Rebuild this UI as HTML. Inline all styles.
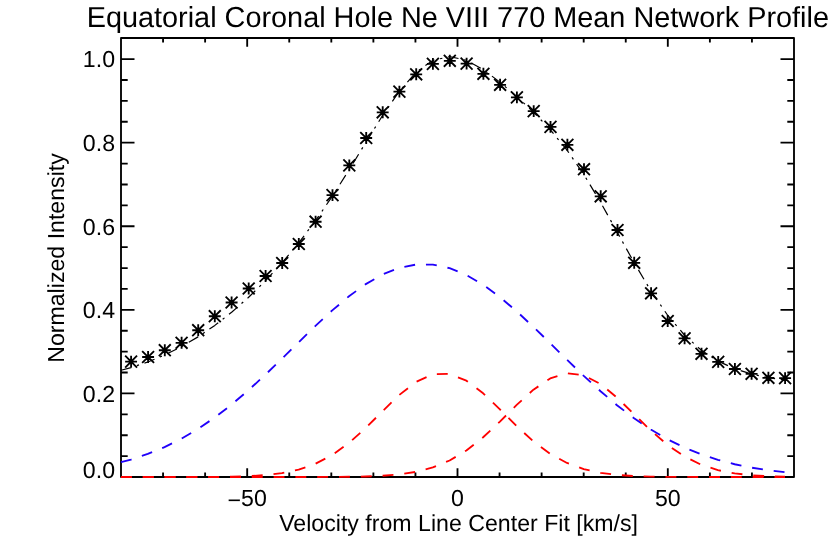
<!DOCTYPE html>
<html><head><meta charset="utf-8"><title>Equatorial Coronal Hole Ne VIII 770 Mean Network Profile</title>
<style>html,body{margin:0;padding:0;background:#fff;}svg{display:block;will-change:transform;}text{font-family:"Liberation Sans",sans-serif;fill:#000;text-rendering:geometricPrecision;}</style></head><body>
<svg width="830" height="554" viewBox="0 0 830 554">
<rect x="0" y="0" width="830" height="554" fill="#fff"/>
<path d="M121.00,38.00 H794.00 V477.00 H121.00 Z M163.06,477.00 v-4.40 M163.06,38.00 v4.40 M205.12,477.00 v-4.40 M205.12,38.00 v4.40 M247.19,477.00 v-8.80 M247.19,38.00 v8.80 M289.25,477.00 v-4.40 M289.25,38.00 v4.40 M331.31,477.00 v-4.40 M331.31,38.00 v4.40 M373.38,477.00 v-4.40 M373.38,38.00 v4.40 M415.44,477.00 v-4.40 M415.44,38.00 v4.40 M457.50,477.00 v-8.80 M457.50,38.00 v8.80 M499.56,477.00 v-4.40 M499.56,38.00 v4.40 M541.62,477.00 v-4.40 M541.62,38.00 v4.40 M583.69,477.00 v-4.40 M583.69,38.00 v4.40 M625.75,477.00 v-4.40 M625.75,38.00 v4.40 M667.81,477.00 v-8.80 M667.81,38.00 v8.80 M709.88,477.00 v-4.40 M709.88,38.00 v4.40 M751.94,477.00 v-4.40 M751.94,38.00 v4.40 M121.00,456.11 h6.70 M794.00,456.11 h-6.70 M121.00,435.21 h6.70 M794.00,435.21 h-6.70 M121.00,414.31 h6.70 M794.00,414.31 h-6.70 M121.00,393.42 h13.50 M794.00,393.42 h-13.50 M121.00,372.52 h6.70 M794.00,372.52 h-6.70 M121.00,351.63 h6.70 M794.00,351.63 h-6.70 M121.00,330.74 h6.70 M794.00,330.74 h-6.70 M121.00,309.84 h13.50 M794.00,309.84 h-13.50 M121.00,288.94 h6.70 M794.00,288.94 h-6.70 M121.00,268.05 h6.70 M794.00,268.05 h-6.70 M121.00,247.16 h6.70 M794.00,247.16 h-6.70 M121.00,226.26 h13.50 M794.00,226.26 h-13.50 M121.00,205.37 h6.70 M794.00,205.37 h-6.70 M121.00,184.47 h6.70 M794.00,184.47 h-6.70 M121.00,163.58 h6.70 M794.00,163.58 h-6.70 M121.00,142.68 h13.50 M794.00,142.68 h-13.50 M121.00,121.78 h6.70 M794.00,121.78 h-6.70 M121.00,100.89 h6.70 M794.00,100.89 h-6.70 M121.00,80.00 h6.70 M794.00,80.00 h-6.70 M121.00,59.10 h13.50 M794.00,59.10 h-13.50" fill="none" stroke="#000" stroke-width="1.85" stroke-linecap="butt" stroke-linejoin="round"/>
<path d="M125.15,361.60 h11.90 M131.10,355.65 v11.90 M125.15,355.65 l11.90,11.90 M125.15,367.55 l11.90,-11.90 M142.15,357.00 h11.90 M148.10,351.05 v11.90 M142.15,351.05 l11.90,11.90 M142.15,362.95 l11.90,-11.90 M158.85,350.20 h11.90 M164.80,344.25 v11.90 M158.85,344.25 l11.90,11.90 M158.85,356.15 l11.90,-11.90 M175.65,342.80 h11.90 M181.60,336.85 v11.90 M175.65,336.85 l11.90,11.90 M175.65,348.75 l11.90,-11.90 M192.25,330.20 h11.90 M198.20,324.25 v11.90 M192.25,324.25 l11.90,11.90 M192.25,336.15 l11.90,-11.90 M208.85,316.20 h11.90 M214.80,310.25 v11.90 M208.85,310.25 l11.90,11.90 M208.85,322.15 l11.90,-11.90 M225.65,302.50 h11.90 M231.60,296.55 v11.90 M225.65,296.55 l11.90,11.90 M225.65,308.45 l11.90,-11.90 M242.75,288.50 h11.90 M248.70,282.55 v11.90 M242.75,282.55 l11.90,11.90 M242.75,294.45 l11.90,-11.90 M259.65,276.00 h11.90 M265.60,270.05 v11.90 M259.65,270.05 l11.90,11.90 M259.65,281.95 l11.90,-11.90 M276.25,263.00 h11.90 M282.20,257.05 v11.90 M276.25,257.05 l11.90,11.90 M276.25,268.95 l11.90,-11.90 M292.85,244.00 h11.90 M298.80,238.05 v11.90 M292.85,238.05 l11.90,11.90 M292.85,249.95 l11.90,-11.90 M309.65,221.70 h11.90 M315.60,215.75 v11.90 M309.65,215.75 l11.90,11.90 M309.65,227.65 l11.90,-11.90 M326.55,195.10 h11.90 M332.50,189.15 v11.90 M326.55,189.15 l11.90,11.90 M326.55,201.05 l11.90,-11.90 M343.35,165.40 h11.90 M349.30,159.45 v11.90 M343.35,159.45 l11.90,11.90 M343.35,171.35 l11.90,-11.90 M360.25,138.00 h11.90 M366.20,132.05 v11.90 M360.25,132.05 l11.90,11.90 M360.25,143.95 l11.90,-11.90 M376.75,112.30 h11.90 M382.70,106.35 v11.90 M376.75,106.35 l11.90,11.90 M376.75,118.25 l11.90,-11.90 M393.45,91.60 h11.90 M399.40,85.65 v11.90 M393.45,85.65 l11.90,11.90 M393.45,97.55 l11.90,-11.90 M410.25,74.30 h11.90 M416.20,68.35 v11.90 M410.25,68.35 l11.90,11.90 M410.25,80.25 l11.90,-11.90 M426.95,63.90 h11.90 M432.90,57.95 v11.90 M426.95,57.95 l11.90,11.90 M426.95,69.85 l11.90,-11.90 M443.85,60.80 h11.90 M449.80,54.85 v11.90 M443.85,54.85 l11.90,11.90 M443.85,66.75 l11.90,-11.90 M460.65,63.60 h11.90 M466.60,57.65 v11.90 M460.65,57.65 l11.90,11.90 M460.65,69.55 l11.90,-11.90 M477.45,73.80 h11.90 M483.40,67.85 v11.90 M477.45,67.85 l11.90,11.90 M477.45,79.75 l11.90,-11.90 M494.15,84.80 h11.90 M500.10,78.85 v11.90 M494.15,78.85 l11.90,11.90 M494.15,90.75 l11.90,-11.90 M510.95,97.40 h11.90 M516.90,91.45 v11.90 M510.95,91.45 l11.90,11.90 M510.95,103.35 l11.90,-11.90 M527.75,111.10 h11.90 M533.70,105.15 v11.90 M527.75,105.15 l11.90,11.90 M527.75,117.05 l11.90,-11.90 M544.55,126.90 h11.90 M550.50,120.95 v11.90 M544.55,120.95 l11.90,11.90 M544.55,132.85 l11.90,-11.90 M561.45,144.80 h11.90 M567.40,138.85 v11.90 M561.45,138.85 l11.90,11.90 M561.45,150.75 l11.90,-11.90 M578.05,169.20 h11.90 M584.00,163.25 v11.90 M578.05,163.25 l11.90,11.90 M578.05,175.15 l11.90,-11.90 M594.75,196.30 h11.90 M600.70,190.35 v11.90 M594.75,190.35 l11.90,11.90 M594.75,202.25 l11.90,-11.90 M611.55,230.00 h11.90 M617.50,224.05 v11.90 M611.55,224.05 l11.90,11.90 M611.55,235.95 l11.90,-11.90 M628.25,262.80 h11.90 M634.20,256.85 v11.90 M628.25,256.85 l11.90,11.90 M628.25,268.75 l11.90,-11.90 M645.15,293.30 h11.90 M651.10,287.35 v11.90 M645.15,287.35 l11.90,11.90 M645.15,299.25 l11.90,-11.90 M661.75,321.00 h11.90 M667.70,315.05 v11.90 M661.75,315.05 l11.90,11.90 M661.75,326.95 l11.90,-11.90 M678.65,338.40 h11.90 M684.60,332.45 v11.90 M678.65,332.45 l11.90,11.90 M678.65,344.35 l11.90,-11.90 M695.55,353.80 h11.90 M701.50,347.85 v11.90 M695.55,347.85 l11.90,11.90 M695.55,359.75 l11.90,-11.90 M712.25,361.90 h11.90 M718.20,355.95 v11.90 M712.25,355.95 l11.90,11.90 M712.25,367.85 l11.90,-11.90 M728.95,369.00 h11.90 M734.90,363.05 v11.90 M728.95,363.05 l11.90,11.90 M728.95,374.95 l11.90,-11.90 M745.65,373.80 h11.90 M751.60,367.85 v11.90 M745.65,367.85 l11.90,11.90 M745.65,379.75 l11.90,-11.90 M762.45,377.80 h11.90 M768.40,371.85 v11.90 M762.45,371.85 l11.90,11.90 M762.45,383.75 l11.90,-11.90 M779.15,378.10 h11.90 M785.10,372.15 v11.90 M779.15,372.15 l11.90,11.90 M779.15,384.05 l11.90,-11.90" fill="none" stroke="#000" stroke-width="1.85" stroke-linecap="butt"/>
<g fill="none" stroke-width="1.85" stroke-linecap="butt" stroke-linejoin="round">
<path d="M121.00,370.26 L131.00,367.60 L147.77,362.01 L164.54,355.10 L181.31,346.76 L198.08,336.88 L214.85,325.39 L231.62,312.27 L248.38,297.52 L265.15,281.11 L281.92,262.95 L298.69,242.90 L315.46,220.74 L332.23,196.37 L349.00,170.03 L365.77,142.54 L382.54,115.52 L399.31,91.25 L416.08,72.20 L432.85,60.38 L449.62,56.60 L466.38,60.24 L483.15,69.48 L499.92,82.12 L516.69,96.50 L533.46,112.13 L550.23,129.62 L567.00,150.11 L583.77,174.39 L600.54,202.25 L617.31,232.36 L634.08,262.62 L650.85,290.81 L667.62,315.23 L684.38,335.00 L701.15,350.10 L717.92,361.07 L734.69,368.75 L751.46,374.00 L768.23,377.56 L785.00,379.97" stroke="#000" stroke-width="1.2" stroke-dasharray="10.8 5.7 2.3 5.73"/>
<path d="M121.00,462.20 L131.00,459.54 L147.77,453.94 L164.54,447.05 L181.31,438.72 L198.08,428.87 L214.85,417.47 L231.62,404.56 L248.38,390.29 L265.15,374.90 L281.92,358.73 L298.69,342.23 L315.46,325.92 L332.23,310.40 L349.00,296.26 L365.77,284.11 L382.54,274.50 L399.31,267.86 L416.08,264.52 L432.85,264.63 L449.62,268.19 L466.38,275.03 L483.15,284.83 L499.92,297.12 L516.69,311.36 L533.46,326.96 L550.23,343.29 L567.00,359.79 L583.77,375.92 L600.54,391.25 L617.31,405.44 L634.08,418.25 L650.85,429.55 L667.62,439.30 L684.38,447.53 L701.15,454.34 L717.92,459.86 L734.69,464.25 L751.46,467.67 L768.23,470.28 L785.00,472.24" stroke="#2000fa" stroke-dasharray="10.9 10.9"/>
<path d="M121.00,477.00 L131.00,477.00 L147.77,477.00 L164.54,476.99 L181.31,476.98 L198.08,476.95 L214.85,476.86 L231.62,476.65 L248.38,476.17 L265.15,475.14 L281.92,473.16 L298.69,469.62 L315.46,463.78 L332.23,455.00 L349.00,442.92 L365.77,427.90 L382.54,411.18 L399.31,394.93 L416.08,381.80 L432.85,374.27 L449.62,373.87 L466.38,380.69 L483.15,393.33 L499.92,409.37 L516.69,426.15 L533.46,441.44 L550.23,453.86 L567.00,462.99 L583.77,469.11 L600.54,472.87 L617.31,474.99 L634.08,476.09 L650.85,476.61 L667.62,476.85 L684.38,476.94 L701.15,476.98 L717.92,476.99 L734.69,477.00 L751.46,477.00 L768.23,477.00 L785.00,477.00" stroke="#ff0000" stroke-dasharray="10.9 10.9"/>
<path d="M121.00,477.00 L131.00,477.00 L147.77,477.00 L164.54,477.00 L181.31,477.00 L198.08,477.00 L214.85,477.00 L231.62,477.00 L248.38,477.00 L265.15,477.00 L281.92,477.00 L298.69,476.99 L315.46,476.97 L332.23,476.92 L349.00,476.78 L365.77,476.46 L382.54,475.78 L399.31,474.39 L416.08,471.82 L432.85,467.42 L449.62,460.48 L466.38,450.46 L483.15,437.26 L499.92,421.56 L516.69,404.92 L533.46,389.67 L550.23,378.41 L567.00,373.27 L583.77,375.29 L600.54,384.07 L617.31,397.88 L634.08,414.22 L650.85,430.58 L667.62,445.02 L684.38,456.46 L701.15,464.71 L717.92,470.15 L734.69,473.44 L751.46,475.28 L768.23,476.22 L785.00,476.67" stroke="#ff0000" stroke-dasharray="10.9 10.9"/>
</g>
<text x="86.7" y="26.6" font-size="28.85">Equatorial Coronal Hole Ne VIII 770 Mean Network Profile</text>
<text x="115.0" y="477.60" font-size="23.15" text-anchor="end">0.0</text>
<text x="115.0" y="401.72" font-size="23.15" text-anchor="end">0.2</text>
<text x="115.0" y="318.14" font-size="23.15" text-anchor="end">0.4</text>
<text x="115.0" y="234.56" font-size="23.15" text-anchor="end">0.6</text>
<text x="115.0" y="150.98" font-size="23.15" text-anchor="end">0.8</text>
<text x="115.0" y="67.40" font-size="23.15" text-anchor="end">1.0</text>
<text x="247.19" y="506.3" font-size="23.15" text-anchor="middle"><tspan dy="1.9">−</tspan><tspan dy="-1.9">50</tspan></text>
<text x="457.50" y="506.3" font-size="23.15" text-anchor="middle">0</text>
<text x="667.81" y="506.3" font-size="23.15" text-anchor="middle">50</text>
<text x="458.60" y="530.7" font-size="23.15" text-anchor="middle">Velocity from Line Center Fit [km/s]</text>
<text transform="translate(64.4,258.0) rotate(-90)" font-size="23.15" text-anchor="middle">Normalized Intensity</text>
</svg></body></html>
